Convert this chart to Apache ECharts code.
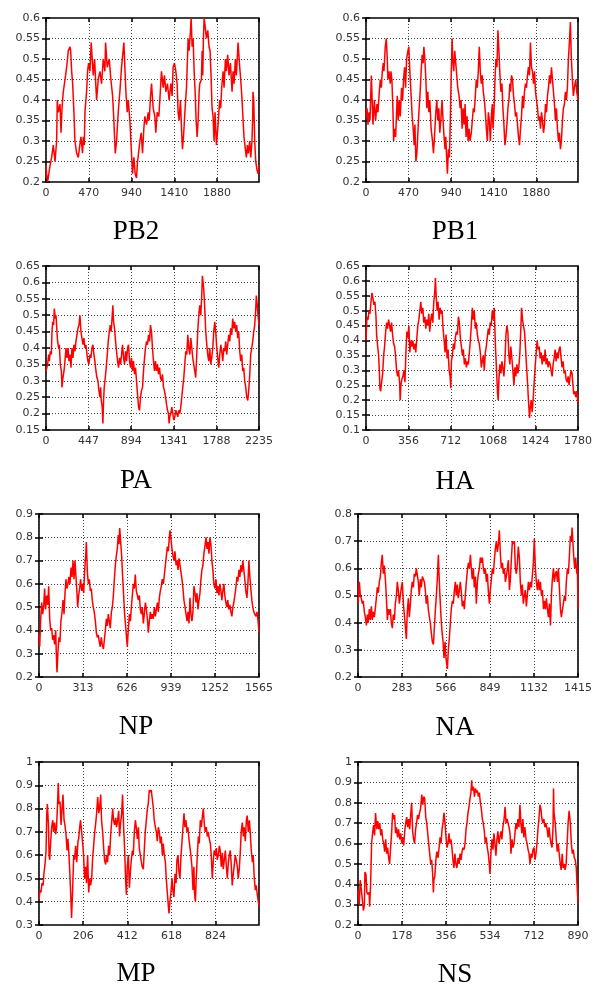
<!DOCTYPE html>
<html><head><meta charset="utf-8">
<script src="https://cdn.jsdelivr.net/npm/echarts@6/dist/echarts.min.js"></script>
<style>html,body{margin:0;padding:0;background:#fff}#c{width:596px;height:987px}</style>
</head><body><div id="c"></div>
<script>
const names = ['PB2','PB1','PA','HA','NP','NA','MP','NS'];
const xMax = [2341,2341,2235,1780,1565,1415,1027,890];
const xStep = [470,470,447,356,313,283,206,178];
const yMin = [0.2,0.2,0.15,0.1,0.2,0.2,0.3,0.2];
const yMax = [0.6,0.6,0.65,0.65,0.9,0.8,1.0,1.0];
const yStep = [0.05,0.05,0.05,0.05,0.1,0.1,0.1,0.1];

const pb2 = [[0,0.24],[7,0.22],[18,0.2],[44,0.24],[62,0.26],[80,0.29],[99,0.25],[117,0.3],[124,0.4],[135,0.37],[154,0.39],[165,0.32],[176,0.38],[190,0.42],[209,0.45],[227,0.48],[245,0.52],[263,0.53],[271,0.52],[282,0.47],[293,0.44],[307,0.37],[318,0.3],[337,0.27],[355,0.26],[366,0.28],[384,0.31],[402,0.27],[410,0.31],[421,0.29],[428,0.37],[446,0.42],[457,0.47],[468,0.49],[483,0.47],[497,0.54],[519,0.46],[534,0.5],[549,0.43],[556,0.4],[574,0.45],[593,0.47],[611,0.44],[629,0.5],[647,0.47],[655,0.54],[673,0.48],[695,0.5],[713,0.45],[732,0.41],[746,0.35],[761,0.27],[776,0.3],[783,0.33],[797,0.38],[812,0.42],[830,0.48],[856,0.54],[867,0.48],[878,0.42],[893,0.37],[904,0.4],[922,0.35],[933,0.3],[951,0.22],[966,0.26],[980,0.22],[995,0.21],[1006,0.25],[1017,0.27],[1032,0.3],[1046,0.32],[1061,0.27],[1075,0.33],[1086,0.36],[1105,0.34],[1123,0.37],[1134,0.35],[1149,0.41],[1160,0.44],[1178,0.38],[1196,0.36],[1207,0.32],[1222,0.37],[1240,0.36],[1251,0.4],[1269,0.47],[1288,0.43],[1302,0.46],[1317,0.42],[1335,0.44],[1353,0.4],[1372,0.44],[1386,0.41],[1397,0.48],[1412,0.49],[1427,0.47],[1441,0.44],[1452,0.37],[1463,0.35],[1478,0.4],[1489,0.33],[1500,0.28],[1514,0.32],[1529,0.38],[1544,0.43],[1562,0.55],[1573,0.52],[1588,0.57],[1595,0.6],[1606,0.53],[1617,0.55],[1628,0.47],[1639,0.42],[1650,0.35],[1661,0.31],[1672,0.35],[1683,0.42],[1690,0.44],[1708,0.45],[1716,0.52],[1723,0.46],[1730,0.55],[1738,0.6],[1749,0.58],[1763,0.55],[1778,0.57],[1792,0.53],[1803,0.52],[1814,0.46],[1825,0.38],[1836,0.36],[1847,0.3],[1858,0.37],[1873,0.29],[1891,0.34],[1909,0.4],[1920,0.38],[1931,0.43],[1946,0.47],[1957,0.43],[1972,0.5],[1983,0.47],[1997,0.51],[2012,0.46],[2027,0.49],[2045,0.42],[2056,0.47],[2067,0.44],[2081,0.5],[2092,0.46],[2111,0.54],[2129,0.48],[2140,0.45],[2155,0.4],[2166,0.35],[2176,0.31],[2191,0.28],[2202,0.26],[2213,0.29],[2224,0.27],[2239,0.3],[2250,0.26],[2264,0.3],[2272,0.36],[2275,0.42],[2283,0.4],[2294,0.3],[2305,0.25],[2319,0.23],[2330,0.22],[2341,0.24]];

const pb1 = [[0,0.36],[11,0.38],[22,0.34],[33,0.37],[44,0.35],[59,0.46],[77,0.34],[92,0.4],[106,0.35],[121,0.39],[132,0.37],[147,0.42],[158,0.45],[169,0.43],[180,0.47],[191,0.49],[198,0.47],[213,0.53],[224,0.55],[235,0.5],[242,0.45],[253,0.47],[268,0.44],[275,0.47],[286,0.45],[297,0.38],[305,0.3],[316,0.33],[327,0.31],[338,0.37],[345,0.41],[356,0.35],[367,0.4],[378,0.36],[393,0.43],[404,0.4],[415,0.45],[426,0.48],[437,0.43],[448,0.5],[463,0.52],[473,0.53],[484,0.47],[496,0.42],[510,0.36],[521,0.33],[532,0.29],[540,0.34],[551,0.25],[562,0.27],[573,0.32],[584,0.37],[598,0.42],[609,0.47],[620,0.51],[631,0.49],[639,0.53],[650,0.5],[661,0.45],[672,0.38],[683,0.42],[694,0.37],[705,0.4],[719,0.33],[734,0.3],[745,0.27],[756,0.31],[771,0.37],[782,0.4],[793,0.35],[804,0.38],[815,0.32],[826,0.35],[840,0.4],[851,0.35],[862,0.31],[873,0.28],[881,0.31],[892,0.25],[899,0.22],[910,0.28],[921,0.26],[929,0.33],[940,0.45],[951,0.55],[958,0.5],[969,0.47],[980,0.52],[991,0.49],[1002,0.46],[1013,0.43],[1028,0.41],[1039,0.38],[1050,0.4],[1061,0.33],[1072,0.38],[1083,0.34],[1094,0.39],[1105,0.31],[1116,0.36],[1127,0.3],[1138,0.33],[1149,0.3],[1163,0.32],[1174,0.35],[1185,0.38],[1196,0.37],[1207,0.41],[1218,0.45],[1229,0.43],[1240,0.47],[1251,0.53],[1262,0.47],[1273,0.44],[1284,0.46],[1295,0.42],[1307,0.4],[1318,0.37],[1329,0.33],[1340,0.3],[1351,0.37],[1362,0.35],[1373,0.3],[1384,0.36],[1395,0.39],[1402,0.33],[1413,0.37],[1424,0.45],[1435,0.5],[1446,0.48],[1457,0.57],[1468,0.52],[1479,0.46],[1490,0.42],[1501,0.44],[1512,0.38],[1523,0.34],[1534,0.29],[1545,0.31],[1556,0.34],[1567,0.38],[1578,0.4],[1589,0.44],[1596,0.42],[1607,0.46],[1618,0.45],[1629,0.41],[1640,0.39],[1651,0.36],[1662,0.37],[1673,0.34],[1684,0.31],[1695,0.29],[1706,0.33],[1717,0.36],[1728,0.41],[1739,0.38],[1750,0.42],[1761,0.44],[1772,0.43],[1783,0.46],[1794,0.48],[1805,0.46],[1816,0.54],[1827,0.48],[1838,0.47],[1850,0.44],[1861,0.47],[1872,0.42],[1883,0.4],[1894,0.38],[1905,0.35],[1916,0.36],[1927,0.33],[1938,0.37],[1949,0.35],[1960,0.32],[1971,0.34],[1982,0.39],[1993,0.37],[2004,0.41],[2015,0.43],[2026,0.46],[2037,0.44],[2048,0.48],[2059,0.45],[2070,0.42],[2081,0.39],[2092,0.35],[2103,0.38],[2114,0.33],[2125,0.3],[2136,0.32],[2147,0.28],[2158,0.3],[2169,0.35],[2180,0.38],[2191,0.39],[2202,0.42],[2213,0.4],[2224,0.43],[2235,0.5],[2246,0.54],[2257,0.59],[2268,0.5],[2279,0.45],[2290,0.41],[2301,0.43],[2316,0.45],[2327,0.42],[2341,0.4]];

const pa = [[0,0.33],[7,0.33],[17,0.35],[28,0.38],[35,0.36],[45,0.39],[56,0.38],[63,0.45],[70,0.48],[80,0.47],[87,0.52],[98,0.49],[105,0.5],[115,0.45],[122,0.42],[133,0.4],[140,0.41],[150,0.35],[161,0.33],[168,0.28],[178,0.31],[189,0.33],[199,0.36],[210,0.4],[220,0.37],[231,0.4],[241,0.36],[251,0.38],[262,0.34],[272,0.4],[283,0.37],[293,0.41],[304,0.39],[314,0.42],[325,0.44],[335,0.46],[346,0.47],[356,0.5],[367,0.45],[377,0.43],[388,0.41],[398,0.43],[409,0.4],[419,0.41],[430,0.38],[440,0.36],[450,0.35],[461,0.38],[471,0.37],[482,0.4],[492,0.41],[503,0.38],[513,0.36],[524,0.33],[534,0.31],[545,0.3],[555,0.27],[566,0.25],[573,0.28],[580,0.24],[590,0.22],[597,0.17],[604,0.24],[611,0.28],[622,0.31],[632,0.34],[643,0.38],[653,0.42],[664,0.45],[674,0.47],[684,0.45],[695,0.5],[702,0.53],[709,0.48],[719,0.46],[730,0.42],[740,0.39],[751,0.36],[761,0.34],[772,0.37],[782,0.35],[793,0.38],[803,0.41],[814,0.37],[824,0.35],[835,0.39],[845,0.36],[856,0.4],[866,0.41],[877,0.36],[887,0.34],[897,0.37],[908,0.33],[918,0.36],[929,0.32],[939,0.34],[950,0.3],[960,0.26],[971,0.22],[981,0.21],[992,0.25],[1002,0.27],[1013,0.28],[1023,0.33],[1034,0.37],[1044,0.4],[1055,0.42],[1065,0.41],[1076,0.44],[1086,0.42],[1096,0.47],[1107,0.45],[1117,0.4],[1128,0.36],[1138,0.33],[1149,0.36],[1159,0.33],[1170,0.35],[1180,0.32],[1191,0.34],[1201,0.31],[1212,0.3],[1222,0.32],[1233,0.28],[1243,0.27],[1254,0.25],[1264,0.23],[1275,0.21],[1285,0.2],[1292,0.17],[1299,0.19],[1310,0.2],[1320,0.22],[1331,0.2],[1341,0.18],[1351,0.19],[1362,0.21],[1372,0.2],[1383,0.19],[1393,0.21],[1404,0.2],[1414,0.22],[1425,0.25],[1435,0.28],[1446,0.31],[1456,0.35],[1467,0.39],[1477,0.38],[1488,0.44],[1498,0.4],[1509,0.38],[1519,0.43],[1530,0.4],[1540,0.37],[1550,0.35],[1561,0.33],[1571,0.31],[1582,0.38],[1592,0.45],[1603,0.5],[1613,0.53],[1624,0.5],[1634,0.56],[1641,0.62],[1648,0.6],[1655,0.58],[1666,0.52],[1676,0.45],[1687,0.41],[1697,0.38],[1708,0.36],[1718,0.4],[1729,0.35],[1739,0.37],[1750,0.4],[1760,0.45],[1771,0.48],[1781,0.45],[1792,0.4],[1802,0.37],[1813,0.34],[1823,0.38],[1834,0.41],[1844,0.39],[1855,0.36],[1865,0.4],[1875,0.39],[1886,0.42],[1896,0.38],[1907,0.41],[1917,0.44],[1928,0.42],[1938,0.46],[1949,0.44],[1959,0.49],[1970,0.46],[1980,0.48],[1991,0.45],[2001,0.47],[2012,0.43],[2022,0.45],[2033,0.39],[2043,0.36],[2054,0.38],[2064,0.33],[2075,0.34],[2085,0.3],[2096,0.28],[2106,0.25],[2117,0.24],[2127,0.27],[2138,0.32],[2148,0.38],[2159,0.4],[2169,0.42],[2180,0.45],[2190,0.47],[2201,0.52],[2207,0.56],[2214,0.54],[2224,0.5],[2235,0.47]];

const ha = [[0,0.4],[8,0.48],[17,0.47],[25,0.5],[33,0.49],[42,0.53],[50,0.56],[59,0.54],[67,0.52],[75,0.53],[84,0.48],[89,0.42],[98,0.38],[106,0.35],[112,0.3],[117,0.24],[123,0.23],[131,0.26],[140,0.29],[148,0.35],[156,0.38],[165,0.43],[173,0.46],[181,0.44],[190,0.47],[198,0.45],[206,0.43],[215,0.46],[223,0.42],[232,0.39],[240,0.38],[248,0.35],[257,0.3],[265,0.28],[273,0.3],[282,0.26],[287,0.2],[293,0.25],[301,0.27],[310,0.28],[318,0.3],[327,0.26],[335,0.36],[343,0.43],[352,0.41],[360,0.45],[368,0.36],[377,0.4],[385,0.38],[393,0.4],[402,0.37],[410,0.39],[418,0.36],[427,0.41],[435,0.45],[444,0.47],[452,0.5],[460,0.53],[469,0.49],[477,0.51],[485,0.46],[494,0.48],[502,0.44],[510,0.47],[519,0.45],[527,0.49],[535,0.43],[544,0.47],[552,0.49],[561,0.46],[569,0.53],[577,0.56],[583,0.61],[589,0.55],[597,0.5],[605,0.53],[614,0.47],[622,0.51],[631,0.49],[639,0.5],[647,0.44],[656,0.4],[664,0.36],[672,0.42],[681,0.34],[689,0.37],[698,0.3],[706,0.28],[712,0.24],[717,0.33],[725,0.35],[734,0.39],[742,0.37],[750,0.41],[759,0.43],[767,0.42],[776,0.48],[784,0.46],[792,0.41],[801,0.38],[809,0.35],[817,0.37],[826,0.32],[834,0.34],[843,0.31],[851,0.33],[859,0.32],[868,0.36],[876,0.4],[884,0.45],[893,0.51],[901,0.47],[909,0.5],[918,0.44],[926,0.46],[935,0.42],[943,0.4],[951,0.39],[960,0.36],[968,0.31],[976,0.33],[985,0.35],[993,0.3],[1002,0.36],[1010,0.38],[1018,0.41],[1027,0.44],[1035,0.42],[1043,0.46],[1052,0.45],[1060,0.5],[1068,0.47],[1077,0.51],[1082,0.44],[1088,0.37],[1096,0.3],[1105,0.22],[1110,0.2],[1116,0.27],[1124,0.32],[1133,0.29],[1141,0.33],[1149,0.31],[1158,0.28],[1166,0.33],[1175,0.42],[1183,0.45],[1191,0.43],[1200,0.35],[1208,0.32],[1216,0.38],[1225,0.34],[1233,0.3],[1242,0.25],[1250,0.31],[1258,0.28],[1267,0.32],[1275,0.29],[1283,0.31],[1292,0.36],[1300,0.44],[1306,0.51],[1314,0.47],[1322,0.45],[1331,0.43],[1339,0.38],[1347,0.32],[1356,0.26],[1364,0.2],[1373,0.14],[1378,0.17],[1387,0.2],[1395,0.16],[1403,0.2],[1412,0.26],[1420,0.31],[1429,0.36],[1437,0.4],[1445,0.37],[1454,0.38],[1462,0.34],[1471,0.36],[1479,0.32],[1487,0.35],[1496,0.33],[1504,0.37],[1512,0.32],[1521,0.34],[1529,0.31],[1538,0.33],[1546,0.32],[1554,0.3],[1563,0.28],[1571,0.32],[1579,0.34],[1588,0.37],[1596,0.33],[1605,0.36],[1613,0.34],[1621,0.37],[1630,0.38],[1638,0.34],[1646,0.31],[1655,0.33],[1663,0.29],[1672,0.3],[1680,0.27],[1688,0.26],[1697,0.28],[1705,0.25],[1714,0.28],[1722,0.3],[1730,0.29],[1736,0.26],[1744,0.22],[1752,0.23],[1761,0.21],[1769,0.23],[1780,0.19]];

const np = [[0,0.38],[5,0.33],[12,0.45],[19,0.52],[26,0.47],[33,0.5],[40,0.58],[47,0.49],[55,0.55],[62,0.51],[69,0.59],[76,0.45],[83,0.4],[90,0.41],[97,0.36],[104,0.38],[111,0.34],[119,0.4],[123,0.3],[128,0.22],[135,0.31],[142,0.37],[149,0.35],[156,0.44],[164,0.48],[171,0.53],[178,0.47],[185,0.56],[192,0.62],[199,0.58],[206,0.6],[213,0.63],[220,0.6],[228,0.67],[235,0.63],[242,0.7],[249,0.62],[256,0.7],[263,0.63],[270,0.56],[275,0.5],[282,0.55],[289,0.58],[296,0.62],[304,0.57],[311,0.6],[318,0.56],[325,0.66],[332,0.72],[337,0.78],[344,0.65],[351,0.6],[358,0.62],[365,0.57],[372,0.58],[379,0.53],[386,0.5],[393,0.48],[401,0.44],[408,0.39],[415,0.37],[422,0.38],[429,0.35],[436,0.33],[443,0.37],[450,0.34],[458,0.32],[465,0.36],[472,0.4],[479,0.45],[486,0.42],[493,0.47],[500,0.44],[507,0.41],[515,0.48],[522,0.5],[529,0.55],[536,0.62],[543,0.68],[550,0.72],[557,0.75],[564,0.81],[569,0.77],[574,0.84],[581,0.78],[588,0.72],[595,0.63],[602,0.55],[609,0.47],[616,0.42],[624,0.36],[628,0.33],[635,0.4],[643,0.47],[650,0.44],[657,0.5],[664,0.55],[671,0.6],[678,0.58],[685,0.64],[692,0.57],[700,0.55],[707,0.53],[714,0.55],[721,0.49],[728,0.47],[735,0.5],[742,0.43],[749,0.47],[757,0.52],[764,0.49],[771,0.45],[778,0.39],[785,0.44],[792,0.48],[799,0.45],[806,0.47],[813,0.45],[821,0.5],[828,0.46],[835,0.49],[842,0.52],[849,0.48],[856,0.54],[863,0.57],[870,0.59],[877,0.62],[885,0.6],[892,0.64],[899,0.68],[906,0.72],[913,0.76],[920,0.74],[927,0.8],[932,0.83],[939,0.79],[946,0.75],[953,0.72],[960,0.7],[967,0.74],[975,0.68],[982,0.7],[989,0.66],[996,0.71],[1003,0.68],[1010,0.65],[1017,0.62],[1024,0.58],[1031,0.53],[1039,0.5],[1046,0.47],[1053,0.44],[1060,0.48],[1067,0.43],[1074,0.54],[1081,0.47],[1088,0.44],[1095,0.48],[1102,0.59],[1110,0.56],[1117,0.52],[1124,0.56],[1131,0.49],[1138,0.53],[1145,0.56],[1152,0.62],[1159,0.66],[1166,0.68],[1173,0.73],[1180,0.76],[1188,0.8],[1195,0.75],[1202,0.78],[1209,0.73],[1216,0.8],[1223,0.77],[1230,0.7],[1237,0.66],[1244,0.6],[1252,0.58],[1259,0.62],[1266,0.56],[1273,0.59],[1280,0.55],[1287,0.6],[1294,0.57],[1301,0.53],[1308,0.57],[1315,0.6],[1322,0.55],[1329,0.52],[1336,0.5],[1343,0.53],[1350,0.49],[1358,0.51],[1365,0.48],[1372,0.46],[1379,0.5],[1386,0.52],[1393,0.55],[1400,0.58],[1408,0.63],[1415,0.61],[1422,0.66],[1429,0.63],[1436,0.68],[1443,0.65],[1450,0.7],[1457,0.66],[1464,0.62],[1471,0.57],[1479,0.54],[1486,0.6],[1493,0.7],[1500,0.63],[1507,0.58],[1514,0.53],[1521,0.5],[1528,0.48],[1535,0.47],[1543,0.46],[1550,0.48],[1557,0.45],[1565,0.39]];

const na = [[0,0.47],[9,0.55],[15,0.5],[21,0.49],[28,0.47],[34,0.48],[41,0.44],[47,0.42],[54,0.39],[60,0.43],[66,0.4],[73,0.45],[79,0.41],[86,0.46],[92,0.41],[99,0.44],[105,0.42],[111,0.45],[118,0.49],[124,0.53],[131,0.51],[137,0.55],[144,0.57],[150,0.62],[156,0.65],[163,0.58],[169,0.61],[176,0.56],[182,0.5],[189,0.41],[195,0.45],[201,0.43],[208,0.45],[214,0.4],[221,0.38],[227,0.43],[234,0.41],[240,0.47],[247,0.5],[253,0.55],[259,0.52],[266,0.47],[272,0.5],[279,0.53],[285,0.55],[292,0.47],[298,0.43],[304,0.39],[311,0.34],[317,0.44],[324,0.49],[330,0.42],[337,0.47],[343,0.52],[349,0.55],[356,0.53],[362,0.58],[369,0.57],[375,0.6],[382,0.6],[388,0.55],[394,0.5],[401,0.56],[407,0.53],[414,0.57],[420,0.57],[427,0.55],[433,0.52],[439,0.47],[446,0.5],[452,0.45],[459,0.42],[465,0.4],[472,0.36],[478,0.33],[485,0.32],[491,0.38],[497,0.44],[504,0.5],[510,0.56],[517,0.65],[521,0.58],[527,0.5],[534,0.42],[540,0.37],[547,0.33],[553,0.27],[560,0.33],[564,0.28],[570,0.25],[575,0.23],[581,0.3],[587,0.34],[594,0.4],[600,0.45],[607,0.48],[613,0.47],[620,0.52],[626,0.55],[632,0.5],[639,0.54],[645,0.49],[652,0.52],[658,0.55],[665,0.51],[671,0.46],[678,0.48],[684,0.45],[690,0.5],[697,0.55],[703,0.59],[710,0.62],[716,0.6],[723,0.65],[729,0.6],[735,0.56],[742,0.6],[748,0.53],[755,0.57],[761,0.47],[768,0.55],[774,0.58],[781,0.6],[787,0.64],[793,0.62],[800,0.64],[806,0.6],[813,0.58],[819,0.6],[826,0.55],[832,0.58],[838,0.52],[845,0.47],[851,0.52],[858,0.56],[864,0.6],[871,0.58],[877,0.63],[883,0.67],[890,0.7],[896,0.66],[903,0.69],[909,0.74],[916,0.65],[922,0.6],[929,0.62],[935,0.58],[942,0.6],[948,0.55],[954,0.57],[961,0.6],[967,0.63],[974,0.52],[980,0.56],[987,0.64],[993,0.7],[999,0.69],[1006,0.7],[1012,0.6],[1019,0.58],[1025,0.62],[1031,0.68],[1038,0.64],[1044,0.55],[1051,0.5],[1057,0.54],[1063,0.47],[1070,0.5],[1076,0.52],[1083,0.46],[1089,0.5],[1096,0.55],[1102,0.52],[1109,0.55],[1115,0.53],[1121,0.57],[1128,0.62],[1134,0.71],[1141,0.6],[1147,0.55],[1154,0.52],[1160,0.56],[1167,0.52],[1173,0.55],[1180,0.5],[1186,0.52],[1193,0.45],[1199,0.48],[1205,0.45],[1212,0.49],[1218,0.45],[1225,0.42],[1231,0.47],[1238,0.39],[1244,0.5],[1250,0.56],[1257,0.6],[1263,0.55],[1270,0.58],[1276,0.59],[1283,0.55],[1289,0.6],[1296,0.52],[1302,0.45],[1308,0.42],[1315,0.42],[1321,0.47],[1328,0.5],[1334,0.48],[1340,0.55],[1347,0.6],[1353,0.58],[1360,0.65],[1366,0.72],[1373,0.7],[1377,0.75],[1381,0.71],[1388,0.64],[1394,0.6],[1400,0.64],[1407,0.58],[1411,0.61],[1415,0.45]];

const mp = [[0,0.41],[5,0.45],[9,0.44],[14,0.48],[19,0.47],[23,0.52],[28,0.56],[33,0.62],[36,0.77],[39,0.82],[44,0.73],[47,0.6],[50,0.58],[54,0.65],[59,0.72],[64,0.75],[68,0.7],[73,0.74],[78,0.69],[82,0.72],[87,0.83],[90,0.91],[93,0.82],[98,0.83],[103,0.73],[107,0.79],[112,0.86],[117,0.75],[121,0.73],[126,0.69],[131,0.62],[135,0.67],[140,0.6],[145,0.5],[149,0.41],[152,0.33],[157,0.45],[162,0.6],[166,0.58],[171,0.64],[176,0.57],[182,0.66],[185,0.67],[190,0.72],[194,0.75],[199,0.7],[204,0.65],[208,0.6],[213,0.5],[218,0.55],[222,0.48],[227,0.6],[232,0.44],[236,0.5],[241,0.47],[246,0.5],[250,0.58],[255,0.64],[260,0.7],[264,0.73],[269,0.78],[274,0.85],[279,0.78],[283,0.8],[288,0.86],[292,0.75],[297,0.7],[302,0.63],[306,0.58],[311,0.56],[316,0.6],[320,0.57],[325,0.64],[330,0.6],[334,0.68],[339,0.74],[344,0.8],[348,0.75],[353,0.73],[358,0.76],[362,0.72],[367,0.75],[372,0.79],[376,0.68],[381,0.74],[386,0.78],[390,0.86],[395,0.72],[400,0.62],[404,0.5],[408,0.43],[412,0.55],[417,0.6],[422,0.46],[426,0.52],[431,0.58],[436,0.62],[440,0.6],[445,0.7],[450,0.75],[454,0.72],[459,0.67],[464,0.72],[468,0.63],[473,0.6],[478,0.57],[482,0.55],[487,0.54],[492,0.63],[496,0.7],[501,0.75],[506,0.8],[510,0.82],[515,0.88],[520,0.87],[524,0.88],[529,0.84],[534,0.8],[538,0.75],[543,0.72],[548,0.7],[552,0.66],[557,0.72],[562,0.7],[566,0.65],[571,0.68],[576,0.6],[580,0.65],[585,0.6],[590,0.57],[594,0.5],[599,0.44],[604,0.38],[607,0.35],[611,0.4],[616,0.44],[621,0.5],[625,0.45],[630,0.42],[635,0.52],[640,0.48],[644,0.58],[649,0.6],[653,0.53],[658,0.5],[663,0.6],[667,0.65],[672,0.72],[677,0.78],[681,0.72],[686,0.75],[691,0.7],[695,0.72],[700,0.67],[705,0.63],[709,0.6],[714,0.55],[719,0.45],[723,0.55],[726,0.44],[730,0.4],[734,0.5],[739,0.6],[744,0.68],[748,0.65],[753,0.75],[758,0.72],[762,0.76],[767,0.8],[772,0.73],[776,0.7],[781,0.72],[786,0.68],[790,0.7],[795,0.67],[800,0.65],[804,0.6],[809,0.5],[814,0.58],[818,0.62],[823,0.6],[828,0.63],[832,0.58],[837,0.6],[842,0.64],[846,0.62],[851,0.55],[856,0.61],[860,0.54],[865,0.58],[870,0.62],[874,0.56],[879,0.5],[884,0.57],[888,0.6],[893,0.62],[898,0.55],[902,0.47],[907,0.52],[912,0.56],[916,0.6],[921,0.58],[926,0.55],[930,0.5],[935,0.54],[940,0.62],[944,0.7],[949,0.74],[954,0.68],[958,0.72],[963,0.66],[968,0.75],[972,0.77],[977,0.7],[982,0.75],[986,0.7],[991,0.62],[996,0.57],[1000,0.6],[1005,0.5],[1010,0.45],[1014,0.47],[1019,0.43],[1024,0.43],[1027,0.38]];

const ns = [[0,0.37],[5,0.3],[9,0.42],[13,0.38],[18,0.32],[22,0.27],[26,0.3],[28,0.46],[32,0.45],[36,0.36],[40,0.35],[45,0.36],[47,0.29],[51,0.4],[55,0.6],[59,0.65],[63,0.69],[67,0.64],[71,0.75],[76,0.67],[80,0.71],[84,0.67],[88,0.7],[92,0.64],[96,0.67],[100,0.62],[104,0.6],[108,0.56],[112,0.62],[116,0.55],[120,0.58],[124,0.53],[128,0.5],[132,0.58],[136,0.65],[140,0.75],[144,0.72],[148,0.74],[152,0.65],[156,0.68],[160,0.63],[164,0.67],[169,0.62],[173,0.65],[177,0.6],[181,0.63],[185,0.59],[189,0.66],[193,0.7],[197,0.73],[201,0.68],[205,0.72],[209,0.67],[213,0.74],[217,0.8],[221,0.66],[225,0.62],[229,0.6],[233,0.67],[237,0.7],[241,0.74],[245,0.72],[249,0.75],[253,0.77],[258,0.84],[262,0.79],[266,0.83],[270,0.82],[274,0.73],[278,0.7],[282,0.65],[286,0.6],[290,0.55],[294,0.5],[298,0.52],[302,0.45],[305,0.36],[307,0.42],[311,0.44],[315,0.52],[319,0.56],[324,0.53],[328,0.58],[332,0.63],[336,0.6],[340,0.67],[344,0.7],[348,0.75],[352,0.7],[356,0.63],[360,0.58],[364,0.6],[368,0.65],[372,0.6],[376,0.62],[380,0.58],[384,0.52],[388,0.48],[392,0.55],[396,0.5],[400,0.48],[405,0.53],[409,0.5],[413,0.55],[417,0.52],[421,0.56],[425,0.58],[429,0.57],[433,0.6],[437,0.67],[441,0.7],[445,0.75],[449,0.78],[453,0.82],[457,0.85],[460,0.91],[462,0.86],[467,0.88],[471,0.83],[475,0.87],[479,0.85],[483,0.86],[487,0.83],[491,0.85],[495,0.8],[499,0.77],[503,0.72],[507,0.7],[511,0.66],[515,0.6],[519,0.63],[523,0.58],[527,0.55],[531,0.5],[534,0.45],[538,0.56],[542,0.62],[546,0.57],[550,0.65],[554,0.6],[558,0.54],[562,0.62],[566,0.66],[570,0.6],[574,0.63],[578,0.66],[582,0.62],[586,0.68],[591,0.72],[595,0.78],[599,0.7],[603,0.72],[607,0.7],[611,0.68],[615,0.65],[619,0.55],[623,0.62],[627,0.58],[631,0.6],[635,0.65],[639,0.7],[643,0.67],[647,0.72],[651,0.68],[655,0.79],[659,0.7],[663,0.65],[667,0.72],[671,0.63],[675,0.68],[680,0.62],[684,0.6],[688,0.57],[692,0.55],[696,0.5],[700,0.55],[704,0.53],[708,0.57],[712,0.58],[716,0.52],[720,0.55],[724,0.6],[728,0.67],[732,0.72],[736,0.79],[740,0.77],[744,0.72],[748,0.7],[752,0.72],[756,0.68],[760,0.7],[765,0.67],[769,0.63],[773,0.68],[777,0.63],[781,0.6],[785,0.58],[789,0.68],[791,0.87],[793,0.75],[798,0.7],[802,0.62],[806,0.56],[810,0.6],[814,0.55],[818,0.5],[822,0.47],[826,0.55],[830,0.48],[834,0.5],[838,0.47],[842,0.5],[846,0.6],[850,0.7],[854,0.76],[859,0.7],[863,0.6],[867,0.55],[871,0.57],[875,0.53],[879,0.52],[883,0.48],[886,0.4],[890,0.31]];

const seriesData = [pb2, pb1, pa, ha, np, na, mp, ns];

// layout (pixels)
const gridBoxes = [
  {left:46, top:18, width:213, height:164}, {left:366, top:18, width:212, height:164},
  {left:46, top:266, width:213, height:164}, {left:366, top:266, width:212, height:164},
  {left:39, top:514, width:220, height:163}, {left:358, top:514, width:220, height:163},
  {left:39, top:762, width:220, height:163}, {left:358, top:762, width:220, height:163}
];
const titlePos = [[136,232],[455,232],[136,481],[455,482],[136,727],[455,728],[136,974],[455,975]];

const labelStyle = {fontFamily:'DejaVu Sans', fontSize:11, color:'#333'};
const splitStyle = {show:true, lineStyle:{color:'#444', width:1, type:[1,2]}};
const tickStyle = {show:true, inside:true, length:4, lineStyle:{color:'#000', width:1.5}};

const xAxes = [], yAxes = [];
names.forEach((n,i) => {
  xAxes.push({
    type:'value', gridIndex:i, position:'bottom', min:0, max:xMax[i], interval:xStep[i],
    axisLine:{show:false}, axisTick:tickStyle,
    axisLabel:Object.assign({margin:6, showMinLabel:true, showMaxLabel: xMax[i] % xStep[i] === 0,
      formatter: v => String(Math.round(v))}, labelStyle),
    splitLine:splitStyle
  });
  yAxes.push({
    type:'value', gridIndex:i, position:'left', min:yMin[i], max:yMax[i], interval:yStep[i],
    axisLine:{show:false}, axisTick:tickStyle,
    axisLabel:Object.assign({margin:6, formatter: v => String(+v.toFixed(2))}, labelStyle),
    splitLine:splitStyle
  });
});
names.forEach((n,i) => {
  xAxes.push({type:'value', gridIndex:i, position:'top', min:0, max:xMax[i], interval:xStep[i],
    axisLine:{show:false}, axisTick:tickStyle, axisLabel:{show:false}, splitLine:{show:false}});
  yAxes.push({type:'value', gridIndex:i, position:'right', min:yMin[i], max:yMax[i], interval:yStep[i],
    axisLine:{show:false}, axisTick:tickStyle, axisLabel:{show:false}, splitLine:{show:false}});
});

const chart = echarts.init(document.getElementById('c'), null, {renderer:'canvas'});
const option = {
  animation:false,
  backgroundColor:'#fff',
  grid: gridBoxes.map(g => Object.assign({show:true, borderColor:'#000', borderWidth:1.6, containLabel:false, backgroundColor:'transparent'}, g)),
  xAxis: xAxes,
  yAxis: yAxes,
  series: seriesData.map((d,i) => ({
    type:'line', xAxisIndex:i, yAxisIndex:i, data:d, showSymbol:false, symbol:'none',
    lineStyle:{color:'#ff0000', width:1.5}, silent:true, z:3
  })),
  graphic: names.map((n,i) => ({
    type:'text', x:titlePos[i][0], y:titlePos[i][1], silent:true,
    style:{text:n, fill:'#000', font:'27px "Liberation Serif"', align:'center', verticalAlign:'middle'}
  }))
};
chart.setOption(option);
</script>
</body></html>
